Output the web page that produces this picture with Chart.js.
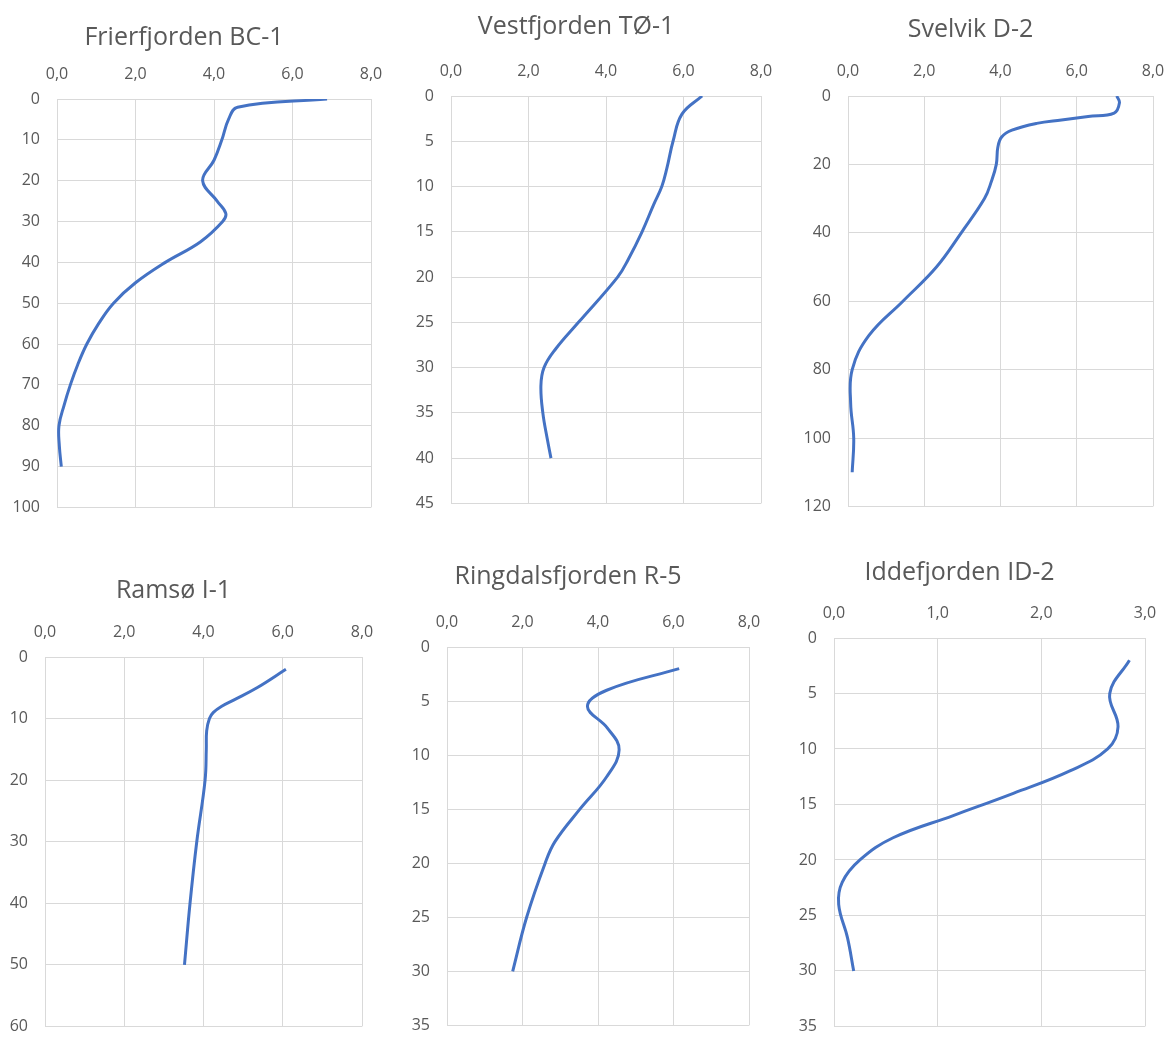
<!DOCTYPE html>
<html lang="no">
<head>
<meta charset="UTF-8">
<script src="https://cdn.jsdelivr.net/npm/chart.js@4.4.1/dist/chart.umd.min.js"></script>
<title>Profiler</title>
<style>
  html, body { margin: 0; background: #fff; overflow: hidden; width: 1168px; height: 1039px; }
  canvas { position: absolute; }
</style>
</head>
<body>
<canvas id="c0"></canvas>
<canvas id="c1"></canvas>
<canvas id="c2"></canvas>
<canvas id="c3"></canvas>
<canvas id="c4"></canvas>
<canvas id="c5"></canvas>

<script>
// titles
const titles = ['Frierfjorden BC-1', 'Vestfjorden TØ-1', 'Svelvik D-2', 'Ramsø I-1', 'Ringdalsfjorden R-5', 'Iddefjorden ID-2'];

// depth (y) and value (x) for each station
const bc1Depth = [0, 2, 5, 10, 15, 20, 25, 28, 30, 35, 40, 45, 50, 55, 60, 65, 70, 75, 80, 85, 90];
const bc1Value = [6.88, 4.6, 4.37, 4.2, 4.0, 3.71, 4.08, 4.3, 4.22, 3.65, 2.76, 2.0, 1.44, 1.06, 0.76, 0.53, 0.34, 0.18, 0.05, 0.06, 0.11];

const to1Depth = [0, 2, 5, 8, 10, 12, 15, 18, 20, 25, 28, 30, 32, 35, 38, 40];
const to1Value = [6.48, 5.96, 5.73, 5.57, 5.44, 5.23, 4.93, 4.58, 4.3, 3.29, 2.69, 2.4, 2.32, 2.37, 2.49, 2.58];

const d2Depth = [0, 2, 5, 6, 7, 8, 10, 12, 15, 20, 25, 30, 40, 50, 60, 70, 80, 90, 100, 110];
const d2Value = [7.05, 7.12, 6.98, 6.3, 5.6, 4.95, 4.3, 4.03, 3.93, 3.89, 3.76, 3.58, 2.97, 2.32, 1.44, 0.55, 0.11, 0.07, 0.15, 0.11];

const i1Depth = [2, 5, 7, 8, 9, 10, 12, 15, 20, 30, 40, 50];
const i1Value = [6.08, 5.35, 4.76, 4.46, 4.25, 4.15, 4.08, 4.07, 4.04, 3.83, 3.66, 3.52];

const r5Depth = [2, 4, 5.5, 7.5, 9.5, 12, 15, 18, 20, 25, 30];
const r5Value = [6.15, 4.23, 3.72, 4.25, 4.56, 4.23, 3.52, 2.86, 2.6, 2.11, 1.74];

const id2Depth = [2, 5, 8, 10, 12, 14, 16, 18, 20, 22, 24, 27, 30];
const id2Value = [2.85, 2.66, 2.74, 2.64, 2.27, 1.73, 1.15, 0.57, 0.25, 0.08, 0.045, 0.13, 0.19];

const depths = [bc1Depth, to1Depth, d2Depth, i1Depth, r5Depth, id2Depth];
const values = [bc1Value, to1Value, d2Value, i1Value, r5Value, id2Value];

// axis ranges
const xMax  = [8, 8, 8, 8, 8, 3];
const xStep = [2, 2, 2, 2, 2, 1];
const yMax  = [100, 45, 120, 60, 35, 35];
const yStep = [10, 5, 20, 10, 5, 5];

// plot boxes on the page (L,R,T,B) and title centre (tx,ty)
const boxes = [
  { L: 57,  R: 371,  T: 99,  B: 514,  tx: 200, ty: 38 },
  { L: 451, R: 761,  T: 96,  B: 510,  tx: 600, ty: 27 },
  { L: 848, R: 1153, T: 96,  B: 513,  tx: 989, ty: 30 },
  { L: 45,  R: 362,  T: 657, B: 1033, tx: 196, ty: 591 },
  { L: 447, R: 749,  T: 647, B: 1032, tx: 591, ty: 577 },
  { L: 834, R: 1145, T: 638, B: 1033, tx: 982, ty: 573 }
];

const FONT = "'Open Sans', 'Noto Sans', sans-serif";
const TXT = '#595959';
const GRID = '#d9d9d9';
const YW = 60, XH = 40, TITLE_SIZE = 25;

function comma(v) { return v.toFixed(1).replace('.', ','); }

for (let i = 0; i < 6; i++) {
  const b = boxes[i];
  const left = b.L - YW;
  const top = b.ty - 20;
  const w = 2 * (b.tx - left);
  const h = b.B - top + 20;
  const padTop = 20 - TITLE_SIZE * 0.6;
  const padBottom = b.T - top - padTop - TITLE_SIZE * 1.2 - XH;

  const cv = document.getElementById('c' + i);
  cv.width = w; cv.height = h;
  cv.style.left = left + 'px'; cv.style.top = top + 'px';
  cv.style.width = w + 'px'; cv.style.height = h + 'px';

  const pts = depths[i].map((d, k) => ({ x: values[i][k], y: d }));

  new Chart(cv.getContext('2d'), {
    type: 'scatter',
    data: {
      datasets: [{
        data: pts,
        showLine: true,
        borderColor: '#4472C4',
        borderWidth: 3,
        pointRadius: 0,
        pointHoverRadius: 0,
        tension: 0.4,
        fill: false
      }]
    },
    options: {
      responsive: false,
      animation: false,
      devicePixelRatio: 1,
      layout: { padding: { left: 0, top: 0, bottom: 20, right: w - YW - (b.R - b.L) } },
      plugins: {
        legend: { display: false },
        tooltip: { enabled: false },
        title: {
          display: true,
          text: titles[i],
          color: TXT,
          font: { family: FONT, size: TITLE_SIZE, weight: 'normal', lineHeight: 1.2 },
          padding: { top: padTop, bottom: padBottom }
        }
      },
      scales: {
        x: {
          type: 'linear',
          position: 'top',
          min: 0, max: xMax[i],
          afterFit: s => { s.height = XH; },
          grid: { color: GRID, lineWidth: 1, drawTicks: false },
          border: { display: true, color: GRID },
          ticks: {
            stepSize: xStep[i],
            color: TXT,
            padding: 15,
            maxRotation: 0,
            font: { family: FONT, size: 16 },
            callback: v => comma(v)
          }
        },
        y: {
          type: 'linear',
          reverse: true,
          min: 0, max: yMax[i],
          afterFit: s => { s.width = YW; },
          grid: { color: GRID, lineWidth: 1, drawTicks: false },
          border: { display: true, color: GRID },
          ticks: {
            stepSize: yStep[i],
            color: TXT,
            padding: 17,
            font: { family: FONT, size: 16 }
          }
        }
      }
    }
  });
}
</script>
</body>
</html>
